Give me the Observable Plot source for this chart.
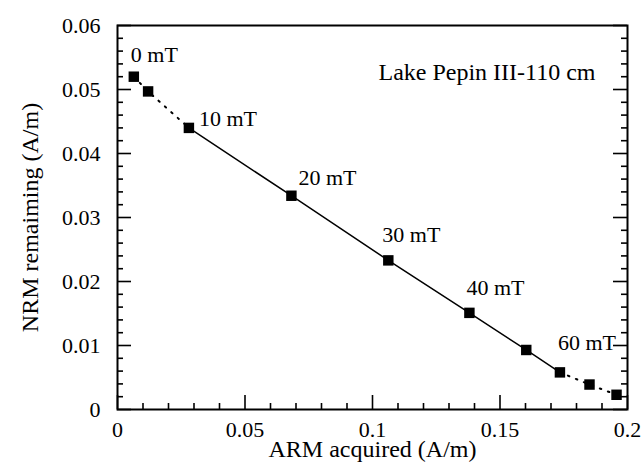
<!DOCTYPE html>
<html>
<head>
<meta charset="utf-8">
<script src="https://cdn.jsdelivr.net/npm/d3@7"></script>
<script src="https://cdn.jsdelivr.net/npm/@observablehq/plot@0.6"></script>
<style>
  html, body { margin: 0; padding: 0; background: white; }
</style>
</head>
<body>
<div id="chart"></div>
<script>
// Data
const arm = [0.0064, 0.0120, 0.0280, 0.0682, 0.1062, 0.1380, 0.1603, 0.1735, 0.1851, 0.1957];
const nrm = [0.0520, 0.0497, 0.0440, 0.0334, 0.0233, 0.0151, 0.0093, 0.0058, 0.0039, 0.0023];
const stepLabels = ["0 mT", "", "10 mT", "20 mT", "30 mT", "40 mT", "", "60 mT", "", ""];
const xMajor = [0, 0.05, 0.1, 0.15, 0.2];
const xMinor = [0.01, 0.02, 0.03, 0.04, 0.06, 0.07, 0.08, 0.09, 0.11, 0.12, 0.13, 0.14, 0.16, 0.17, 0.18, 0.19];
const yMajor = [0, 0.01, 0.02, 0.03, 0.04, 0.05, 0.06];
const yMinor = [0.002, 0.004, 0.006, 0.008, 0.012, 0.014, 0.016, 0.018, 0.022, 0.024, 0.026, 0.028,
                0.032, 0.034, 0.036, 0.038, 0.042, 0.044, 0.046, 0.048, 0.052, 0.054, 0.056, 0.058];
const xTitle = "ARM acquired (A/m)";
const yTitle = "NRM remaiming (A/m)";
const sampleTitle = "Lake Pepin III-110 cm";

const data = arm.map((a, i) => ({arm: a, nrm: nrm[i], label: stepLabels[i]}));

// styling / placement (not data)
const W = 644, H = 466, ML = 117, MR = 17, MT = 25, MB = 57;
const fw = W - ML - MR, fh = H - MT - MB;
const majorLen = 14, minorLen = 6;
const labelOffsets = {0: [-3, -22], 2: [10, -9], 3: [7, -18], 4: [-6, -25], 5: [-3, -25], 7: [-2, -29]};
const font = {fontFamily: "Liberation Serif", fontSize: 22};
const titleFont = {fontFamily: "Liberation Serif", fontSize: 24};

const labelMarks = Object.entries(labelOffsets).map(([i, [dx, dy]]) =>
  Plot.text([data[+i]], {x: "arm", y: "nrm", text: "label", textAnchor: "start", dx, dy, fill: "black", ...font})
);

const tickStyle = {stroke: "black", strokeWidth: 1.6};

const chart = Plot.plot({
  width: W,
  height: H,
  marginLeft: ML,
  marginRight: MR,
  marginTop: MT,
  marginBottom: MB,
  style: {background: "white", color: "black", fontFamily: "Liberation Serif"},
  x: {domain: [0, 0.2], label: null},
  y: {domain: [0, 0.06], label: null},
  marks: [
    // tick labels
    Plot.axisX(xMajor, {anchor: "bottom", tickSize: 0, tickPadding: 12, tickFormat: d => String(d), label: null, fill: "black", ...font}),
    Plot.axisY(yMajor, {anchor: "left", tickSize: 0, tickPadding: 17, tickFormat: d => String(d), label: null, fill: "black", ...font}),
    // inward ticks: bottom
    Plot.tickX(xMajor, {x: d => d, insetTop: fh - majorLen, ...tickStyle}),
    Plot.tickX(xMinor, {x: d => d, insetTop: fh - minorLen, ...tickStyle}),
    // left
    Plot.tickY(yMajor, {y: d => d, insetRight: fw - majorLen, ...tickStyle}),
    Plot.tickY(yMinor, {y: d => d, insetRight: fw - minorLen, ...tickStyle}),
    // right
    Plot.tickY(yMajor, {y: d => d, insetLeft: fw - majorLen, ...tickStyle}),
    Plot.tickY(yMinor, {y: d => d, insetLeft: fw - minorLen, ...tickStyle}),
    Plot.frame({stroke: "black", strokeWidth: 2}),
    // lines
    Plot.line(data.slice(0, 3), {x: "arm", y: "nrm", stroke: "black", strokeWidth: 2, strokeDasharray: "1.6,7"}),
    Plot.line(data.slice(2, 8), {x: "arm", y: "nrm", stroke: "black", strokeWidth: 1.5}),
    Plot.line(data.slice(7), {x: "arm", y: "nrm", stroke: "black", strokeWidth: 2, strokeDasharray: "1.6,7"}),
    // markers
    Plot.dot(data, {x: "arm", y: "nrm", symbol: "square", r: 5.9, fill: "black", stroke: "none"}),
    ...labelMarks,
    // titles
    Plot.text([sampleTitle], {frameAnchor: "top-right", dx: -32, dy: 37, textAnchor: "end", fill: "black", ...titleFont}),
    Plot.text([xTitle], {frameAnchor: "bottom", textAnchor: "middle", dy: 47, fill: "black", ...titleFont}),
    Plot.text([yTitle], {frameAnchor: "left", textAnchor: "middle", dx: -87, rotate: -90, fill: "black", ...titleFont})
  ]
});
document.getElementById("chart").appendChild(chart);
</script>
</body>
</html>
